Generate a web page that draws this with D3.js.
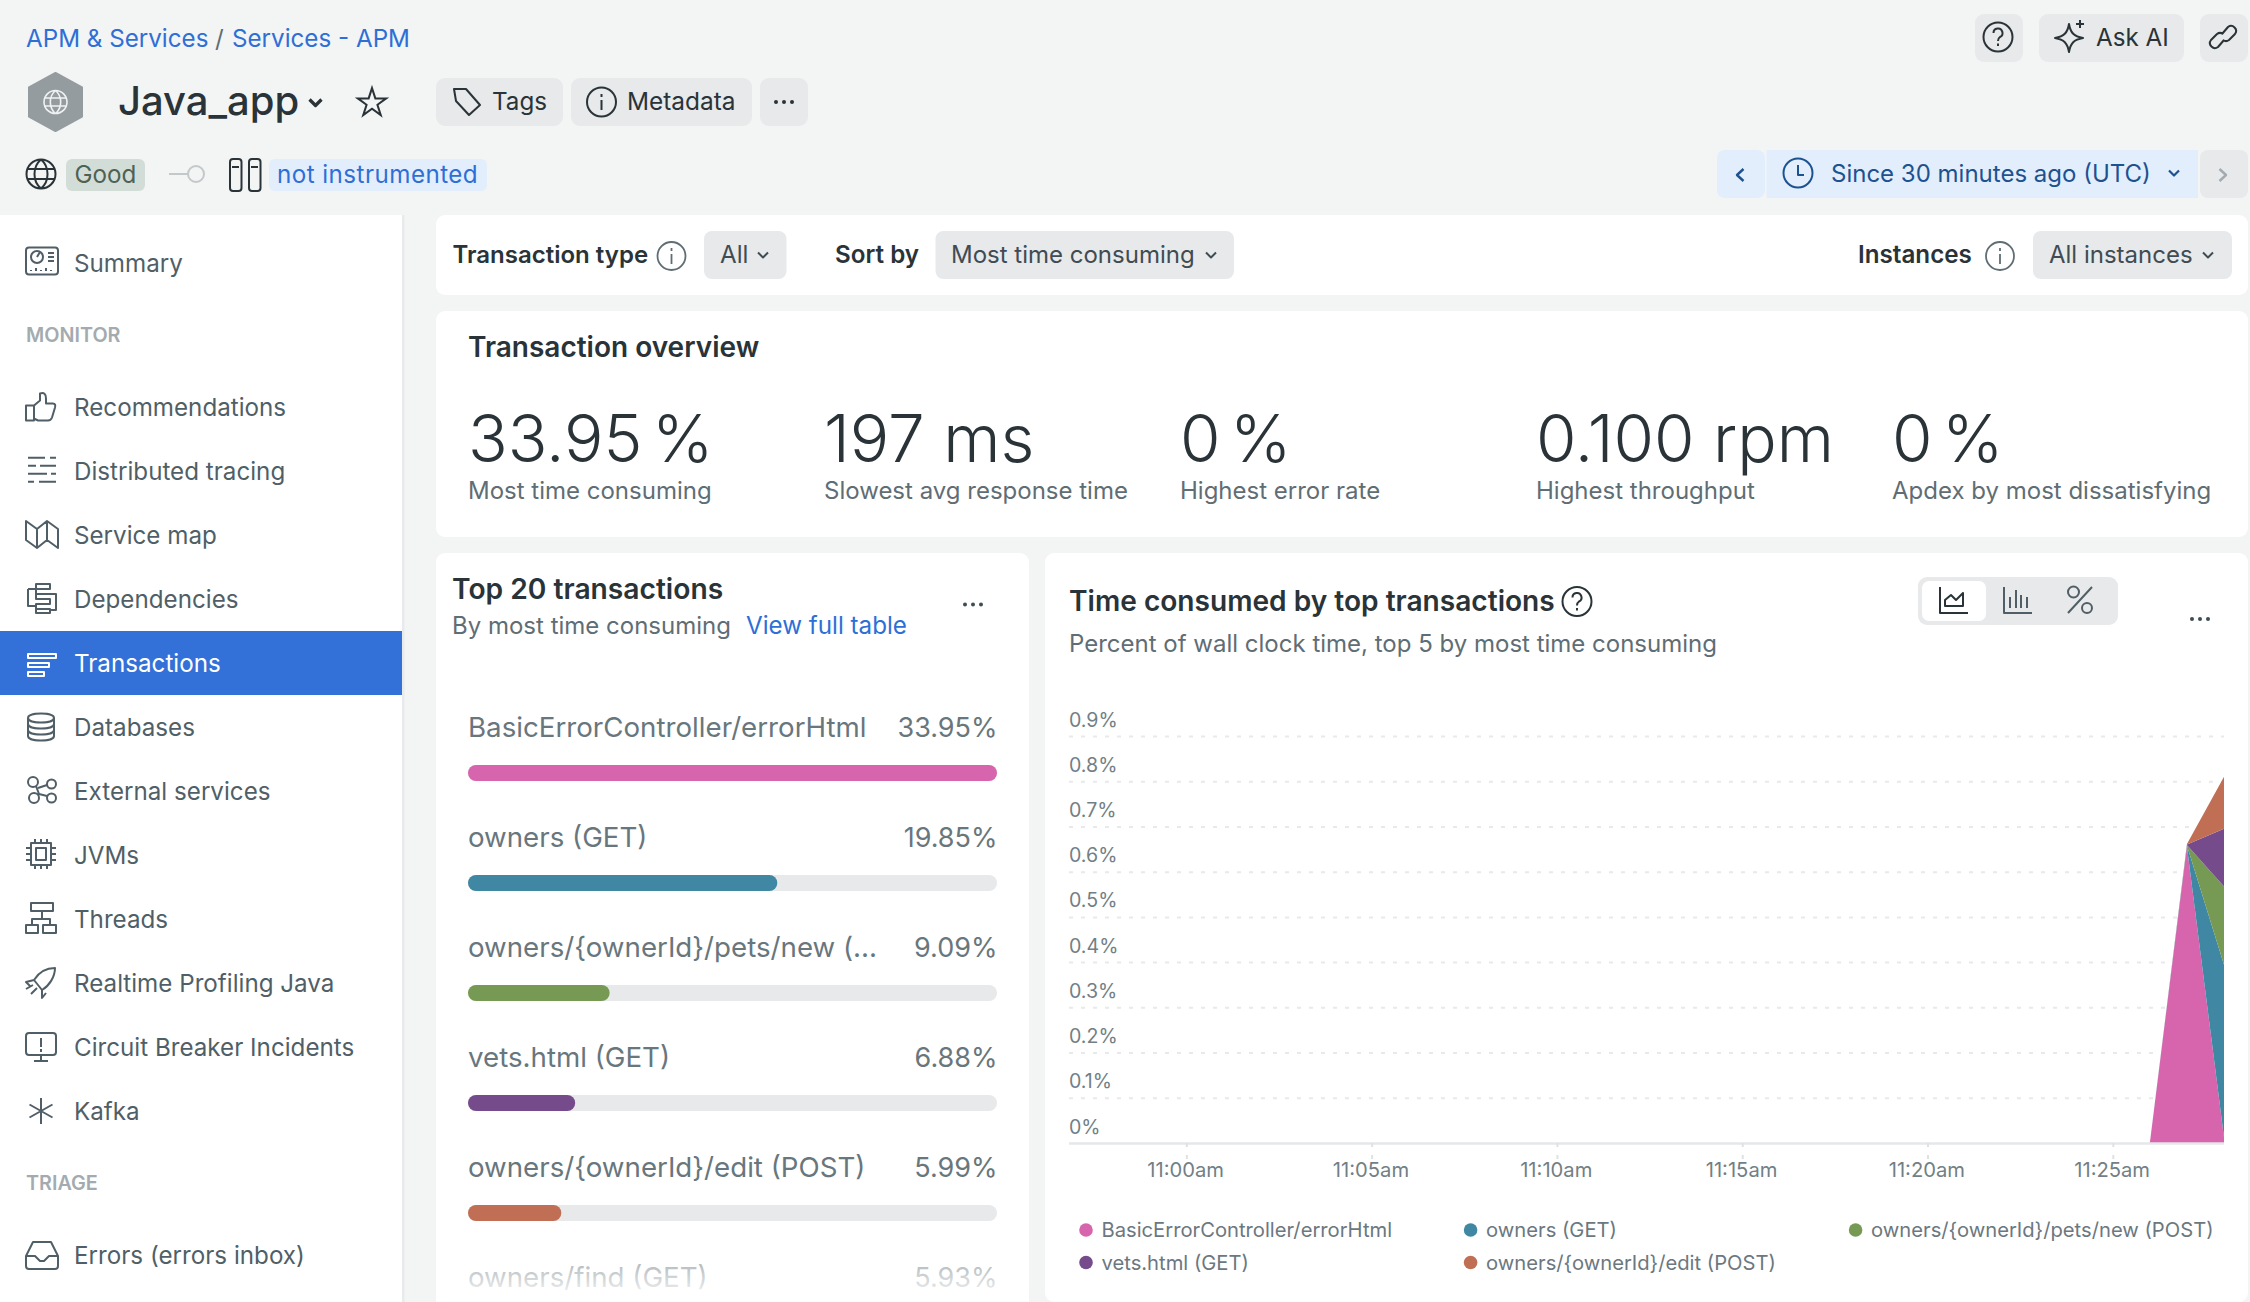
<!DOCTYPE html>
<html><head><meta charset="utf-8">
<script src="https://cdn.jsdelivr.net/npm/d3@7"></script>
<style>html,body{margin:0;padding:0;background:#f3f4f4;overflow:hidden}svg{display:block}text{font-family:Inter,"Noto Sans",sans-serif}</style>
</head><body><svg id="c" width="2250" height="1302"></svg>
<script>
// ---- chart data ----
const transactionNames = ["BasicErrorController/errorHtml","owners (GET)","owners/{ownerId}/pets/new (...","vets.html (GET)","owners/{ownerId}/edit (POST)","owners/find (GET)"];
const transactionPercents = [33.95,19.85,9.09,6.88,5.99,5.93];
const barColors = ["#d665ad","#3f87a3","#769a53","#764b8c","#c06f55"];
const legendNames = ["BasicErrorController/errorHtml","owners (GET)","owners/{ownerId}/pets/new (POST)","vets.html (GET)","owners/{ownerId}/edit (POST)"];
const areaMinutes = ["2024-01-01T11:26:00Z","2024-01-01T11:27:00Z","2024-01-01T11:28:00Z"];
const seriesBasicError = [0,0.655,0.012];
const seriesOwners = [0,0.003,0.382];
const seriesPetsNew = [0,0.001,0.173];
const seriesVets = [0,0.001,0.128];
const seriesEdit = [0,0.001,0.115];
const yTickValues = [0,0.1,0.2,0.3,0.4,0.5,0.6,0.7,0.8,0.9];
const xTickTimes = ["2024-01-01T11:00:00Z","2024-01-01T11:05:00Z","2024-01-01T11:10:00Z","2024-01-01T11:15:00Z","2024-01-01T11:20:00Z","2024-01-01T11:25:00Z"];
const overviewValues = ["33.95 %","197 ms","0 %","0.100 rpm","0 %"];
const overviewLabels = ["Most time consuming","Slowest avg response time","Highest error rate","Highest throughput","Apdex by most dissatisfying"];
const navLabels = ["Recommendations","Distributed tracing","Service map","Dependencies","Transactions","Databases","External services","JVMs","Threads","Realtime Profiling Java","Circuit Breaker Incidents","Kafka"];

// ---- page layout ----
const svg = d3.select("#c");
const INK="#293338", MUTED="#5f6d74", LINK="#2d6fd6", BTN="#e7e9ea", PALE="#e2eefc", NAVTXT="#505f67";
function T(x,y,s,size,opt={}){return (opt.g||svg).append("text").attr("x",x).attr("y",y).text(s)
  .attr("font-size",size).attr("font-weight",opt.w||400).attr("fill",opt.f||INK).attr("text-anchor",opt.a||"start")
  .attr("letter-spacing",opt.ls||null);}
function R(x,y,w,h,f,r=0,g=svg){return g.append("rect").attr("x",x).attr("y",y).attr("width",w).attr("height",h).attr("fill",f).attr("rx",r);}
const circ=r=>`M${-r} 0A${r} ${r} 0 1 1 ${r} 0A${r} ${r} 0 1 1 ${-r} 0Z`;
function I(cx,cy,d,stroke=INK,sw=2,fill="none"){return svg.append("path").attr("transform",`translate(${cx},${cy})`).attr("d",d).attr("fill",fill).attr("stroke",stroke).attr("stroke-width",sw).attr("stroke-linejoin","round").attr("stroke-linecap","butt");}
const chevD="M-5 -2.5L0 2.5L5 -2.5";
const infoD=r=>circ(r)+"M0 -2V8M0 -8V-5";
const dots=(cx,cy,f=INK)=>[-8,0,8].forEach(d=>svg.append("circle").attr("cx",cx+d).attr("cy",cy).attr("r",2).attr("fill",f));
const globeD=r=>circ(r)+`M0 ${-r}C${-r*.6} ${-r*.5} ${-r*.6} ${r*.5} 0 ${r}C${r*.6} ${r*.5} ${r*.6} ${-r*.5} 0 ${-r}M${-r*.93} ${-r*.35}H${r*.93}M${-r*.93} ${r*.35}H${r*.93}`;

// header
T(26,46.5,"APM & Services",24.2,{f:LINK});
T(215,46.5,"/",24.2,{f:MUTED});
T(232,46.5,"Services - APM",24.2,{f:LINK});
I(55.5,102,"M0 -29L26.5 -14.5V14.5L0 29L-26.5 14.5V-14.5Z","#959ca0",2,"#959ca0");
I(55.5,102,globeD(11.5),"#f0f2f2",1.6);
T(118,115,"Java_app",40,{w:500});
I(315.5,102,"M-6 -2.5L0 3.5L6 -2.5",INK,3.2);
svg.append("path").attr("transform","translate(372,103)").attr("d",d3.symbol(d3.symbolStar,250)()).attr("fill","none").attr("stroke",INK).attr("stroke-width",2);
R(436,78,127,48,BTN,9);
I(467,102,"M-13 -13H-1L13 3L2 13L-11 -1Z",INK,2);
T(492,109.5,"Tags",24.2,{});
R(571,78,181,48,BTN,9);
I(601.5,102,infoD(14.5),INK,2);
T(627,109.5,"Metadata",24.4,{});
R(760,78,48,48,BTN,9);
dots(784,102);

I(41,174,globeD(14.5),INK,2);
R(66,159,79,32,"#d3ddd8",6);
T(74.5,182.5,"Good",24.2,{f:"#4d6155"});
I(188,174,"M-19 0H0"+"M8 0"+"M16 0A8 8 0 1 1 0 0A8 8 0 1 1 16 0Z","#c3c8ca",2);
R(230,159,11.5,32,"none",3).attr("stroke",INK).attr("stroke-width",2);
R(249,159,11.5,32,"none",3).attr("stroke",INK).attr("stroke-width",2);
I(0,0,"M232 167H239M251 167H258",INK,2);
R(269,159,218,32,PALE,6);
T(277,182.5,"not instrumented",24.2,{f:LINK,ls:0.45});

R(1975,14,48,48,BTN,9);
I(1998,37,circ(14.5)+"M-4.5 -4A4.5 4.5 0 1 1 2 0C0.5 1 0 2 0 4M0 6.5V9",INK,2);
R(2039,14,145,48,BTN,9);
I(2069,38,"M0 -14C1.5 -5 5 -1.5 14 0C5 1.5 1.5 5 0 14C-1.5 5 -5 1.5 -14 0C-5 -1.5 -1.5 -5 0 -14ZM11 -18V-10M7 -14H15",INK,2);
T(2096,45.5,"Ask AI",24.2,{});
R(2200,14,48,48,BTN,9);
I(2223,37,"M-1 -3L5 -10A5 5 0 0 1 12 -3L6 3A5 5 0 0 1 0 3M1 3L-5 10A5 5 0 0 1 -12 3L-6 -3A5 5 0 0 1 0 -3",INK,2);

R(1717,150,48,48,PALE,8);
R(1766.5,150,431.5,48,PALE,0);
R(2200,150,48,48,BTN,8);
const DTBLUE="#1d5290";
I(1740,175,"M3.5 -6L-3 0L3.5 6",DTBLUE,2.4);
I(1798,173,circ(14.5)+"M0 -8V2H6",DTBLUE,2);
T(1831,181.5,"Since 30 minutes ago (UTC)",24,{f:DTBLUE});
I(2174,173,chevD,DTBLUE,2.2);
I(2223,175,"M-3.5 -6L3 0L-3.5 6","#a3abb0",2.4);

// sidebar
R(0,215,402,1087,"#fff");
R(402,215,2.5,1087,"#e8eaeb");
R(0,631,402,64,"#3370d8");
T(74,271.5,"Summary",24.2,{f:NAVTXT});
T(26,341.5,"MONITOR",19.8,{f:"#a3abb0",w:600});
T(26,1190,"TRIAGE",19.8,{f:"#a3abb0",w:600});
T(74,1264,"Errors (errors inbox)",24.2,{f:NAVTXT});
const navY=d3.scaleLinear().domain([0,1]).range([415.7,479.7]);
navLabels.forEach((n,i)=>T(74,navY(i),n,24.2,{f:n==="Transactions"?"#fff":NAVTXT}));
const S=NAVTXT;
I(42,261,"M-13 -13.5H13A3 3 0 0 1 16 -10.5V10.5A3 3 0 0 1 13 13.5H-13A3 3 0 0 1 -16 10.5V-10.5A3 3 0 0 1 -13 -13.5Z"+"M1 -4A6 6 0 1 1 -11 -4A6 6 0 1 1 1 -4ZM-5 -4L-2 -9M6 -8H12M6 -4H12M6 0H12M-11 9V10M-6 7V10M-1 9V10M4 7V10M9 9V10",S,2);
I(41,406.5,"M-15 -1H-7V14H-15ZM-7 -1L-1 -6V-13Q5 -15 5 -8V-3H12Q15 -3 14 1L11 11Q10 14 7 14H-3L-7 12",S,2);
I(42,469.7,"M-14 -12H3M8 -12H14M-14 -4H-6M-2 -4H14M-14 4H5M9 4H14M-14 12H-8M-3 12H14",S,2);
I(42,534,"M-16 -13L-5 -5L5 -13L16 -5V14L5 6L-5 14L-16 6ZM-5 -5V14M5 -13V6",S,2);
I(42,598,"M-6 -14H8V-9H-6ZM-14 -9H-6V-4H8M-14 -9V8H-6M-6 -4H14V12H8M-6 -4V1H8V6H-6V11H8V15H-6V11",S,2);
I(42,664,"M-14 -10H14V-6H-14ZM-14 -1H7V3H-14ZM-14 8H2V12H-14Z","#fff",2);
I(41,727,"M-13 -9C-13 -15 13 -15 13 -9C13 -3 -13 -3 -13 -9ZM-13 -9V9C-13 15 13 15 13 9V-9M-13 -3C-13 3 13 3 13 -3M-13 3C-13 9 13 9 13 3",S,2);
I(42,791,"M-4 -9A5 5 0 1 1 -14 -9A5 5 0 1 1 -4 -9ZM14 -7A4.5 4.5 0 1 1 5 -7A4.5 4.5 0 1 1 14 -7ZM-3 7A5 5 0 1 1 -13 7A5 5 0 1 1 -3 7ZM14 7A4.5 4.5 0 1 1 5 7A4.5 4.5 0 1 1 14 7ZM-6 -5L-3 3L5 5M-4 -3L5 -6",S,2);
I(41,854,"M-10 -11H10V11H-10ZM-5 -6H5V6H-5ZM-6 -15V-11M0 -15V-11M6 -15V-11M-6 11V15M0 11V15M6 11V15M-15 -6H-10M-15 0H-10M-15 6H-10M10 -6H15M10 0H15M10 6H15",S,2);
I(41,918,"M-10 -15H12V-7H-10ZM-15 7H-3V15H-15ZM2 7H15V15H2ZM1 -7V1M-9 7V1H9V7",S,2);
I(41,983,"M14 -15C6 -15 -2 -11 -7 -3L1 7C8 3 14 -6 14 -15ZM-7 -3L-15 -1L-11 3M1 7L1 15L5 10M-15 6L-8 2M-10 11L-4 5",S,2);
I(41,1047,"M-12 -14H12A3 3 0 0 1 15 -11V5A3 3 0 0 1 12 8H-12A3 3 0 0 1 -15 5V-11A3 3 0 0 1 -12 -14ZM0 -9V0M0 2V5M0 8V14M-7 14H7",S,2);
I(41,1111,"M0 -13V13M-11.5 -6.5L11.5 6.5M-11.5 6.5L11.5 -6.5",S,2);
I(42,1255,"M-16 1L-9 -13H9L16 1V11A3 3 0 0 1 13 14H-13A3 3 0 0 1 -16 11ZM-16 1H-7L-2 6H2L7 1H16",S,2);

// filter bar
R(436,215,1812,80,"#fff",9);
T(452.5,263,"Transaction type",24,{w:600});
I(671.5,256,infoD(14),MUTED,1.8);
R(704,231,82.5,48,BTN,8);
T(720,263,"All",24.2,{f:"#3f4c53"});
I(763,255,chevD,"#3f4c53",2);
T(835,263,"Sort by",24.2,{w:600});
R(935.5,231,298.5,48,BTN,8);
T(951,263,"Most time consuming",24,{f:"#3f4c53"});
I(1211,255,chevD,"#3f4c53",2);
T(1858,263,"Instances",24.2,{w:600});
I(2000,256,infoD(14),MUTED,1.8);
R(2033,231,199,48,BTN,8);
T(2049,263,"All instances",24,{f:"#3f4c53"});
I(2208,255,chevD,"#3f4c53",2);

// overview
R(436,311,1812,226,"#fff",9);
T(468,357,"Transaction overview",28,{w:600});
const ovX=d3.scalePoint().domain(d3.range(5)).range([468,1892]);
overviewValues.forEach((v,i)=>{
  T(ovX(i),461.5,v,65.6,{w:300}).attr("word-spacing",v.endsWith("%")?-9:null);
  T(ovX(i),499,overviewLabels[i],24,{f:MUTED});
});

// top 20 panel
R(436,553,593,749,"#fff",9);
T(452,599,"Top 20 transactions",28.2,{w:600});
T(452,634,"By most time consuming",24,{f:MUTED});
T(746,634,"View full table",24.2,{f:LINK});
dots(973,604.5,"#3f4c53");
const barX=d3.scaleLinear().domain([0,33.95]).range([0,529]);
const rowY=d3.scaleBand().domain(d3.range(transactionNames.length)).range([737,737+110*transactionNames.length]);
const rows=svg.append("g").selectAll("g").data(transactionNames).join("g").attr("transform",(d,i)=>`translate(0,${rowY(i)})`);
rows.append("text").attr("x",468).attr("font-size",27.7).attr("fill","#68767d").text(d=>d);
rows.append("text").attr("x",997.5).attr("text-anchor","end").attr("font-size",27).attr("fill","#68767d").text((d,i)=>transactionPercents[i].toFixed(2)+"%");
rows.filter((d,i)=>i<5).append("rect").attr("x",468).attr("y",28).attr("width",529).attr("height",16).attr("rx",8).attr("fill","#e7e9ea");
rows.filter((d,i)=>i<5).append("rect").attr("x",468).attr("y",28).attr("width",(d,i)=>barX(transactionPercents[i])).attr("height",16).attr("rx",8).attr("fill",(d,i)=>barColors[i]);
const defs=svg.append("defs");
const lg=defs.append("linearGradient").attr("id","fade").attr("x1",0).attr("x2",0).attr("y1",0).attr("y2",1);
lg.append("stop").attr("offset","0").attr("stop-color","#fff").attr("stop-opacity",0);
lg.append("stop").attr("offset","1").attr("stop-color","#fff").attr("stop-opacity",1);
R(436,1224,593,78,"url(#fade)");

// chart panel
R(1045,553,1203,749,"#fff",9);
T(1069,611,"Time consumed by top transactions",28.1,{w:600});
I(1577,601.5,circ(14.5)+"M-4.5 -4A4.5 4.5 0 1 1 2 0C0.5 1 0 2 0 4M0 6.5V9",INK,2);
T(1069,651.5,"Percent of wall clock time, top 5 by most time consuming",24,{f:MUTED});
R(1918,577,200,48,BTN,9);
R(1922,581,64,40,"#fff",7);
I(1954,600,"M-14 -13V13H14M-9 6V0L-3 -5L2 0L9 -7V6Z",INK,2);
I(2018,600,"M-14 -13V13H14M-8 8V-3M-2 8V-10M3 8V-5M9 8V-3",NAVTXT,2);
I(2080,600,"M12 -13L-12 13M-1 -8A5.5 5.5 0 1 1 -12 -8A5.5 5.5 0 1 1 -1 -8ZM12 8A5 5 0 1 1 2 8A5 5 0 1 1 12 8Z",NAVTXT,2);
dots(2200,619,"#3f4c53");

const parseT=d3.utcParse("%Y-%m-%dT%H:%M:%SZ");
const x=d3.scaleUtc().domain([parseT("2024-01-01T10:56:50Z"),parseT("2024-01-01T11:28:00Z")]).range([1069,2224]);
const y=d3.scaleLinear().domain([0,0.9]).range([1143,736]);

const yAxis=d3.axisLeft(y).tickValues(yTickValues).tickSize(-(2224-1069)).tickFormat(d=>(+d.toFixed(1))+"%");
const yG=svg.append("g").attr("transform","translate(1069,0)").call(yAxis);
yG.select(".domain").remove();
yG.selectAll("line").attr("stroke","#e7e9ea").attr("stroke-width",2).attr("stroke-dasharray","4 8").attr("x1",0);
yG.selectAll(".tick").filter(d=>d===0).select("line").remove();
yG.selectAll("text").attr("x",0).attr("dy",0).attr("y",-10).attr("text-anchor","start").attr("font-size",19.6).attr("fill","#727f86").attr("font-family",null);

const rowsData=areaMinutes.map((t,i)=>({t:parseT(t),a:seriesBasicError[i],b:seriesOwners[i],c:seriesPetsNew[i],d:seriesVets[i],e:seriesEdit[i]}));
const stacked=d3.stack().keys(["a","b","c","d","e"])(rowsData);
const area=d3.area().x(d=>x(d.data.t)).y0(d=>y(d[0])).y1(d=>y(d[1]));
svg.append("g").selectAll("path").data(stacked).join("path").attr("d",area).attr("fill",(d,i)=>barColors[i]);

const xAxis=d3.axisBottom(x).tickValues(xTickTimes.map(parseT)).tickSize(17).tickPadding(3)
  .tickFormat(d=>d3.utcFormat("%-I:%M%p")(d).toLowerCase());
const xG=svg.append("g").attr("transform","translate(0,1143)").call(xAxis);
xG.select(".domain").attr("stroke","#e5e7e8").attr("stroke-width",2.5).attr("d","M1069 0.5H2224");
xG.selectAll("line").attr("stroke","#dfe2e3").attr("stroke-width",2).attr("stroke-dasharray","4 8");
xG.selectAll("text").attr("font-size",20.2).attr("fill","#727f86").attr("font-family",null).attr("dx",-1.2);

// legend
const legX=[1086,1470.6,1855.6], legY=[1230,1262.5];
legendNames.forEach((n,i)=>{
  const lx=legX[i%3], ly=legY[Math.floor(i/3)];
  svg.append("circle").attr("cx",lx).attr("cy",ly).attr("r",6.8).attr("fill",barColors[i]);
  T(lx+15.5,ly+7.4,n,20.2,{f:"#6b787f"});
});
</script></body></html>
